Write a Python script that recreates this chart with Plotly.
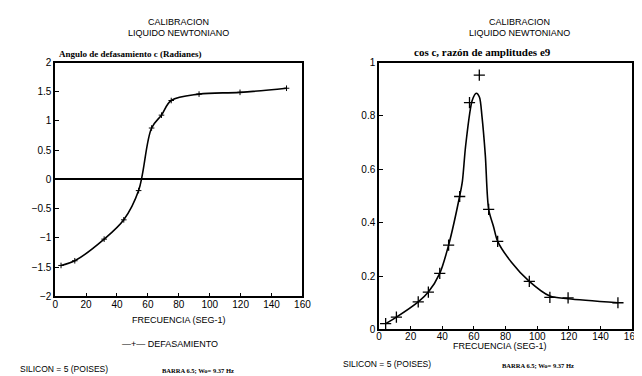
import plotly.graph_objects as go

W, H = 642, 376

# Left chart: phase angle (radians) vs frequency
freq_phase = [3.8, 12.7, 31.7, 44.4, 54.0, 62.4, 68.8, 75.1, 93.1, 119.6, 149.7]
phase = [-1.47, -1.39, -1.02, -0.69, -0.19, 0.88, 1.10, 1.35, 1.46, 1.49, 1.56]

# Right chart: amplitude ratio measured points
freq_amp = [4.2, 11.0, 24.8, 31.2, 38.4, 44.0, 51.0, 57.2, 63.4, 69.3, 75.0, 95.0, 108.0, 119.5, 151.0]
amp = [0.022, 0.046, 0.103, 0.14, 0.21, 0.316, 0.498, 0.85, 0.953, 0.45, 0.33, 0.18, 0.12, 0.118, 0.10]

# Right chart: fitted curve
freq_fit = [4.2, 11.0, 24.8, 31.2, 38.4, 44.0, 51.0, 52.7, 54.8, 58.9, 61.5, 63.5, 65.1, 67.2, 69.3, 72.4, 75.0, 83.7, 95.0, 108.0, 119.5, 151.0]
amp_fit = [0.022, 0.046, 0.103, 0.14, 0.21, 0.316, 0.50, 0.555, 0.69, 0.858, 0.885, 0.87, 0.797, 0.652, 0.45, 0.385, 0.33, 0.252, 0.18, 0.125, 0.115, 0.10]

x_ticks = [0, 20, 40, 60, 80, 100, 120, 140, 160]
phase_ticks = [-2, -1.5, -1, -0.5, 0, 0.5, 1, 1.5, 2]
amp_ticks = [0, 0.2, 0.4, 0.6, 0.8, 1]


def px(x):
    return x / W


def py(y):
    return 1 - y / H


fig = go.Figure()

fig.add_trace(go.Scatter(
    x=freq_phase, y=phase, mode="lines+markers",
    line=dict(color="black", width=1.6, shape="spline", smoothing=1.0),
    marker=dict(symbol="cross-thin", size=4, line=dict(color="black", width=1)),
    xaxis="x", yaxis="y", showlegend=False))

fig.add_trace(go.Scatter(
    x=freq_fit, y=amp_fit, mode="lines",
    line=dict(color="black", width=1.6, shape="spline", smoothing=0.8),
    xaxis="x2", yaxis="y2", showlegend=False))

fig.add_trace(go.Scatter(
    x=freq_amp, y=amp, mode="markers",
    marker=dict(symbol="cross-thin", size=8, line=dict(color="black", width=1.3)),
    xaxis="x2", yaxis="y2", showlegend=False))

font = dict(family="Liberation Sans, Arial, sans-serif", size=10, color="black")
axis_common = dict(showline=True, linecolor="black", linewidth=1.5, mirror=True,
                   ticks="inside", ticklen=4, tickcolor="black", tickwidth=1.2,
                   showgrid=False, tickfont=dict(family="Liberation Sans, Arial", size=10, color="black"))

fig.update_layout(
    width=W, height=H, margin=dict(l=0, r=0, t=0, b=0),
    paper_bgcolor="white", plot_bgcolor="white", font=font,
    xaxis=dict(domain=[px(45), px(297)], range=[0, 160], tickvals=x_ticks,
               anchor="y", zeroline=False, ticklabelstandoff=-2, **axis_common),
    yaxis=dict(domain=[py(292), py(51)], range=[-2, 2], tickvals=phase_ticks,
               anchor="x", zeroline=True, zerolinecolor="black", zerolinewidth=1.5,
               **axis_common),
    xaxis2=dict(domain=[px(375), px(633)], range=[0, 160], tickvals=x_ticks,
                anchor="y2", zeroline=False, ticklabelstandoff=-3, **axis_common),
    yaxis2=dict(domain=[py(326), py(51)], range=[0, 1], tickvals=amp_ticks,
                anchor="x2", zeroline=False, **axis_common),
)

ann = []


def txt(x, y, s, size=9, family="Liberation Sans, Arial", xanchor="center", bold=False):
    ann.append(dict(x=px(x), y=py(y), xref="paper", yref="paper", text=("<b>%s</b>" % s) if bold else s,
                    showarrow=False, xanchor=xanchor, yanchor="middle",
                    font=dict(family=family, size=size, color="black")))


txt(171, 9, "CALIBRACION", 9)
txt(171, 21, "LIQUIDO NEWTONIANO", 9)
txt(122, 42, "Angulo de defasamiento c (Radianes)", 9, "Liberation Serif, Times New Roman", bold=True)
txt(171, 316, "FRECUENCIA (SEG-1)", 9)
txt(162, 341, "—+— DEFASAMIENTO", 9)
txt(7, 367, "SILICON = 5 (POISES)", 8.5, xanchor="left")
txt(152, 368, "BARRA 6.5; Wo= 9.37 Hz", 6.5, "Liberation Serif, Times New Roman", xanchor="left", bold=True)

txt(518, 9, "CALIBRACION", 9)
txt(518, 21, "LIQUIDO NEWTONIANO", 9)
txt(480, 40, "cos c, razón de amplitudes e9", 11, "Liberation Serif, Times New Roman", bold=True)
txt(498, 343, "FRECUENCIA (SEG-1)", 9)
txt(336, 362, "SILICON = 5 (POISES)", 8.5, xanchor="left")
txt(498, 363, "BARRA 6.5; Wo= 9.37 Hz", 6.5, "Liberation Serif, Times New Roman", xanchor="left", bold=True)

fig.update_layout(annotations=ann)

fig.write_html("out.html")
